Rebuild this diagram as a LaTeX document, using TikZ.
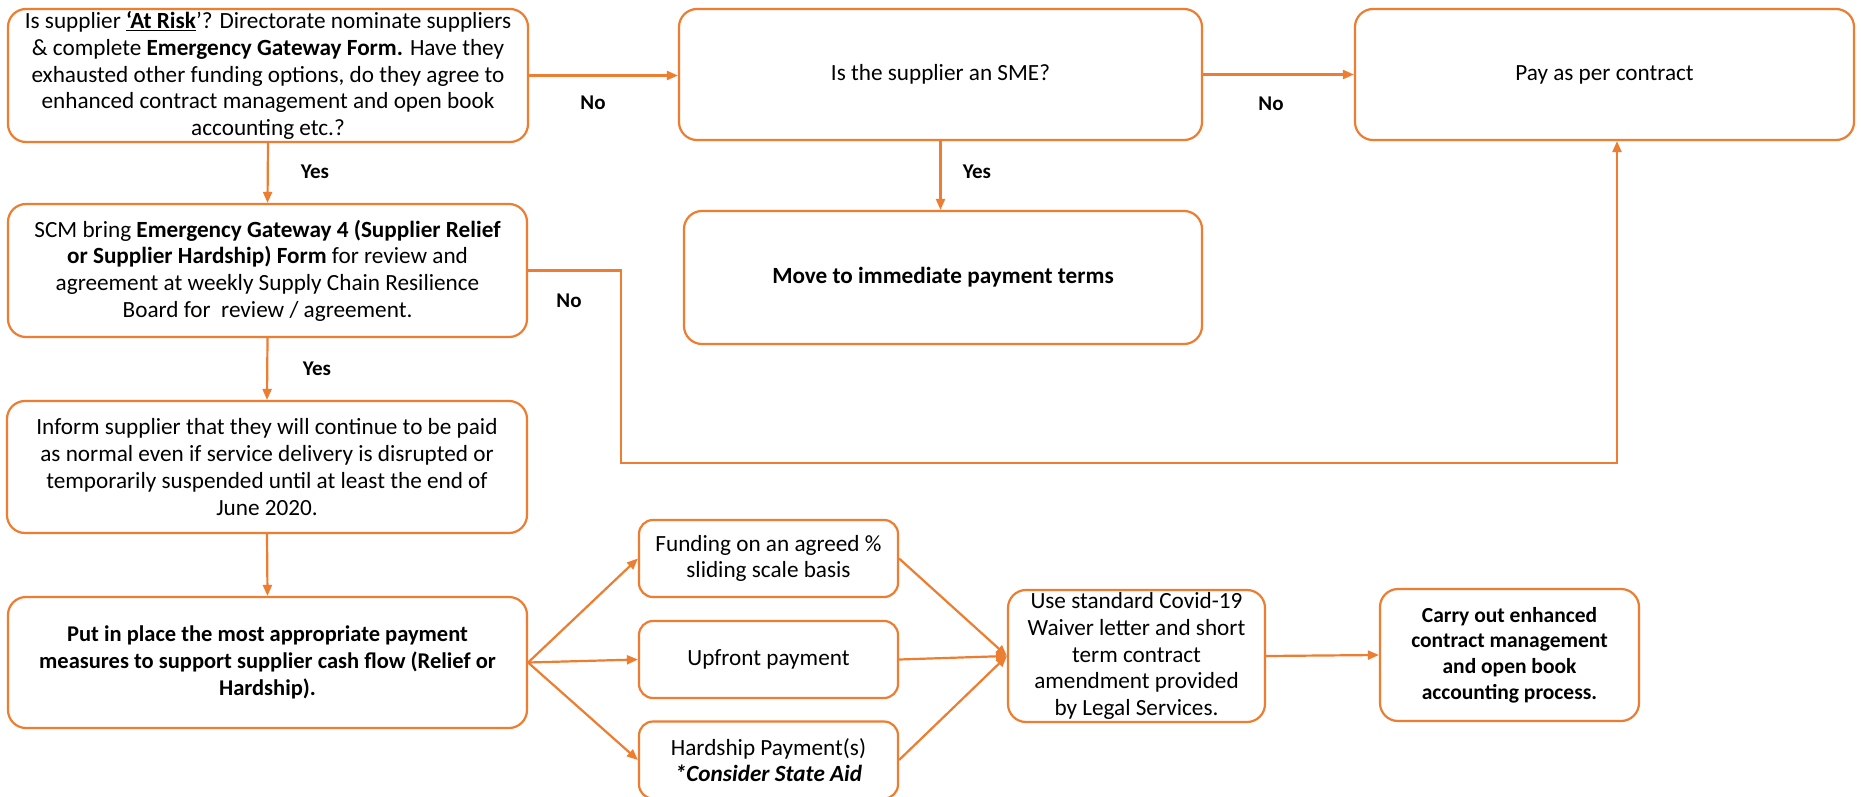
\documentclass[tikz,border=0pt]{standalone}
\usepackage{fontspec}
\setmainfont{Carlito}
\usetikzlibrary{arrows.meta}
\definecolor{org}{HTML}{ED7D31}
\begin{document}
\begin{tikzpicture}[x=1pt,y=-1pt,
  box/.style={draw=org, line width=2.2pt, rounded corners=18pt, align=center, inner sep=0pt, font=\fontsize{23.2}{26.7}\selectfont},
  lbl/.style={font=\fontsize{21}{24}\selectfont\bfseries},
  arr/.style={draw=org, line width=2.2pt, -{Triangle[length=11pt,width=9pt]}}]
\useasboundingbox (0,0) rectangle (1861,797);
\fill[white] (0,0) rectangle (1861,797);

\node[box, minimum width=520pt, minimum height=133pt] (A) at (268,75.5) {Is supplier \textbf{\underline{‘At Risk}}’? Directorate nominate suppliers\\ \& complete \textbf{Emergency Gateway Form.} Have they\\ exhausted other funding options, do they agree to\\ enhanced contract management and open book\\ accounting etc.?};
\node[box, minimum width=523pt, minimum height=131pt] (SME) at (940.5,74.5) {Is the supplier an SME?};
\node[box, minimum width=499pt, minimum height=131pt] (Pay) at (1604.5,74.5) {Pay as per contract};
\node[box, minimum width=519pt, minimum height=133pt] (SCM) at (267.5,270.5) {SCM bring \textbf{Emergency Gateway 4 (Supplier Relief}\\ \textbf{or Supplier Hardship) Form} for review and\\ agreement at weekly Supply Chain Resilience\\ Board for~ review / agreement.};
\node[box, minimum width=518pt, minimum height=133pt] (Move) at (943,277.5) {\textbf{Move to immediate payment terms}};
\node[box, minimum width=520pt, minimum height=132pt] (Inf) at (267,467) {Inform supplier that they will continue to be paid\\ as normal even if service delivery is disrupted or\\ temporarily suspended until at least the end of\\ June 2020.};
\node[box, minimum width=519pt, minimum height=131pt, font=\fontsize{22.5}{26.7}\selectfont] (Put) at (267.5,662.5) {\textbf{Put in place the most appropriate payment}\\ \textbf{measures to support supplier cash flow (Relief or}\\ \textbf{Hardship).}};
\node[box, rounded corners=14pt, minimum width=259pt, minimum height=77pt] (Fund) at (768.5,558.5) {Funding on an agreed \%\\ sliding scale basis};
\node[box, rounded corners=14pt, minimum width=259pt, minimum height=77pt] (Up) at (768.5,659.5) {Upfront payment};
\node[box, rounded corners=14pt, minimum width=259pt, minimum height=77pt] (Hard) at (768.5,760) {Hardship Payment(s)\\ \textbf{\textit{*Consider State Aid}}};
\node[box, minimum width=257pt, minimum height=132pt] (Use) at (1136.5,656) {Use standard Covid-19\\ Waiver letter and short\\ term contract\\ amendment provided\\ by Legal Services.};
\node[box, minimum width=259pt, minimum height=132pt, font=\fontsize{21.5}{25.8}\selectfont\bfseries] (Carry) at (1509.5,655) {Carry out enhanced\\ contract management\\ and open book\\ accounting process.};

\node[lbl] (l1) at (593,103) {No};
\node[lbl] (l2) at (1271,104) {No};
\node[lbl] (l3) at (315,172) {Yes};
\node[lbl] (l4) at (977,172) {Yes};
\node[lbl] (l5) at (569,301) {No};
\node[lbl] (l6) at (317,369) {Yes};

\draw[arr] (A.east) -- (A.east -| SME.west);
\draw[arr] (SME.east) -- (SME.east -| Pay.west);
\draw[arr] (A.south) -- (SCM.north);
\draw[arr] (SME.south) -- (SME.south |- Move.north);
\draw[arr] (SCM.south) -- (Inf.north);
\draw[arr] (Inf.south) -- (Put.north);
\coordinate (k1) at (621,463);
\coordinate (k2) at (1617,463);
\draw[arr] (SCM.east) -| (k1) -- (k2) -- (k2 |- Pay.south);
\draw[arr] (Put.east) -- (Fund.west);
\draw[arr] (Put.east) -- (Up.west);
\draw[arr] (Put.east) -- (Hard.west);
\draw[arr] (Fund.east) -- (Use.west);
\draw[arr] (Up.east) -- (Use.west);
\draw[arr] (Hard.east) -- (Use.west);
\draw[arr] (Use.east) -- (Carry.west);
\end{tikzpicture}
\end{document}
